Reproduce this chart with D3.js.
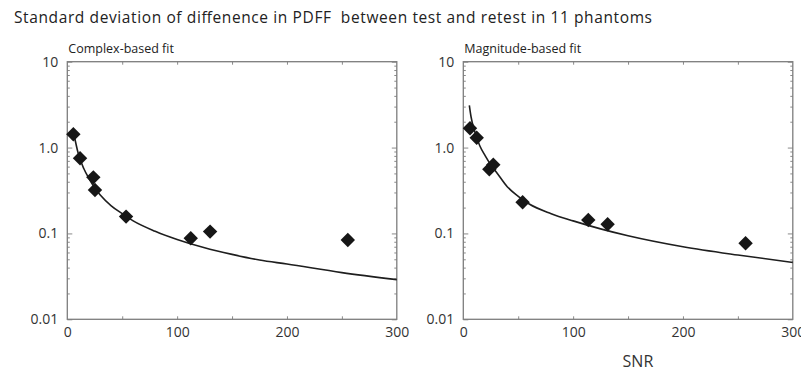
<!DOCTYPE html>
<html>
<head>
<meta charset="utf-8">
<script src="https://cdn.jsdelivr.net/npm/d3@7"></script>
<style>
  html, body { margin: 0; padding: 0; background: #fff; }
  svg { display: block; }
  text { font-family: "Open Sans", "DejaVu Sans", sans-serif; }
</style>
</head>
<body>
<svg id="chart" width="801" height="372"></svg>
<script>
// ---------- data ----------
const titleText = "Standard deviation of diffenence in PDFF  between test and retest in 11 phantoms";
const panelTitles = ["Complex-based fit", "Magnitude-based fit"];
const xLabel = "SNR";

const xTickValues = [0, 100, 200, 300];
const xTickLabels = ["0", "100", "200", "300"];
const xMinorTicks = [50, 100, 150, 200, 250];
const yTickValues = [10, 1, 0.1, 0.01];
const yTickLabels = ["10", "1.0", "0.1", "0.01"];

// Complex-based fit: measured points
const complexSNR = [5.5, 11.6, 23.7, 25.2, 53.5, 112.4, 130, 255.4];
const complexSD  = [1.43, 0.75, 0.45, 0.32, 0.157, 0.088, 0.105, 0.084];
// Complex-based fit: fitted curve, sampled along the drawn line
const complexCurveSNR = [5.5, 10, 15, 20, 25, 30, 40, 50, 60, 80, 100, 125, 150, 175, 200, 250, 300];
const complexCurveSD  = [1.55, 0.85, 0.57, 0.43, 0.34, 0.28, 0.21, 0.17, 0.14, 0.106, 0.085, 0.068, 0.057, 0.049, 0.044, 0.035, 0.029];

// Magnitude-based fit: measured points
const magnitudeSNR = [6.1, 12.2, 23.7, 27.3, 54, 113.8, 131.4, 257];
const magnitudeSD  = [1.68, 1.30, 0.56, 0.63, 0.231, 0.1435, 0.128, 0.0767];
// Magnitude-based fit: fitted curve, sampled along the drawn line
const magnitudeCurveSNR = [5.5, 7, 10, 15, 20, 25, 30, 40, 50, 60, 80, 100, 125, 150, 200, 250, 300];
const magnitudeCurveSD  = [3.1, 2.3, 1.6, 1.05, 0.8, 0.63, 0.52, 0.35, 0.27, 0.22, 0.17, 0.14, 0.113, 0.094, 0.07, 0.056, 0.046];

// ---------- drawing ----------
const svg = d3.select("#chart");

svg.append("text")
  .attr("x", 14).attr("y", 23)
  .attr("font-size", 15.5)
  .attr("fill", "#222")
  .attr("textLength", 638)
  .attr("lengthAdjust", "spacing")
  .style("white-space", "pre")
  .attr("xml:space", "preserve")
  .text(titleText);

const panels = [
  { left: 67.3, title: panelTitles[0], px: complexSNR, py: complexSD, cx: complexCurveSNR, cy: complexCurveSD, showX: false },
  { left: 463.3, title: panelTitles[1], px: magnitudeSNR, py: magnitudeSD, cx: magnitudeCurveSNR, cy: magnitudeCurveSD, showX: true }
];

const plotTop = 61.7, plotBottom = 319.3, plotW = 329.5;
const plotH = plotBottom - plotTop;

const x = d3.scaleLinear().domain([0, 300]).range([0, plotW]);
const y = d3.scaleLog().domain([0.01, 10]).range([plotH, 0]);

// minor log ticks
const minorY = [];
[0.01, 0.1, 1].forEach(d => { for (let k = 2; k <= 9; k++) minorY.push(+(d * k).toPrecision(3)); });

const frameColor = "#7d7d7d";

panels.forEach(p => {
  const g = svg.append("g").attr("transform", `translate(${p.left},${plotTop})`);

  // panel title
  svg.append("text")
    .attr("x", p.left + 1).attr("y", 53)
    .attr("font-size", 12.5)
    .attr("fill", "#222")
    .text(p.title);

  // tick marks (inward)
  const tickStyle = sel => {
    sel.select(".domain").remove();
    sel.selectAll(".tick line").attr("stroke", frameColor).attr("stroke-width", 0.9);
    sel.selectAll(".tick text").remove();
  };
  g.append("g").call(d3.axisRight(y).tickValues(yTickValues).tickSize(5).tickFormat("")).call(tickStyle);
  g.append("g").call(d3.axisRight(y).tickValues(minorY).tickSize(2.5).tickFormat("")).call(tickStyle);
  g.append("g").attr("transform", `translate(${plotW},0)`)
    .call(d3.axisLeft(y).tickValues(yTickValues).tickSize(5).tickFormat("")).call(tickStyle);
  g.append("g").attr("transform", `translate(${plotW},0)`)
    .call(d3.axisLeft(y).tickValues(minorY).tickSize(2.5).tickFormat("")).call(tickStyle);
  g.append("g").attr("transform", `translate(0,${plotH})`)
    .call(d3.axisTop(x).tickValues(xMinorTicks).tickSize(3).tickFormat("")).call(tickStyle);
  g.append("g")
    .call(d3.axisBottom(x).tickValues(xMinorTicks).tickSize(3).tickFormat("")).call(tickStyle);

  // tick labels
  const yLab = g.append("g")
    .call(d3.axisLeft(y).tickValues(yTickValues).tickSize(0).tickPadding(9)
      .tickFormat((d, i) => yTickLabels[i]));
  yLab.select(".domain").remove();
  yLab.selectAll("text").attr("font-size", 14).attr("fill", "#333")
    .attr("font-family", "'Open Sans', sans-serif");

  const xLab = g.append("g").attr("transform", `translate(0,${plotH})`)
    .call(d3.axisBottom(x).tickValues(xTickValues).tickSize(0).tickPadding(8)
      .tickFormat((d, i) => xTickLabels[i]));
  xLab.select(".domain").remove();
  xLab.selectAll("text").attr("font-size", 14).attr("fill", "#333")
    .attr("font-family", "'Open Sans', sans-serif");

  // frame
  g.append("rect")
    .attr("x", 0).attr("y", 0).attr("width", plotW).attr("height", plotH)
    .attr("fill", "none").attr("stroke", frameColor).attr("stroke-width", 1.3);

  // fitted curve
  const curvePts = p.cx.map((v, i) => [v, p.cy[i]]);
  g.append("path")
    .datum(curvePts)
    .attr("fill", "none")
    .attr("stroke", "#1e1e1e")
    .attr("stroke-width", 1.6)
    .attr("d", d3.line().x(d => x(d[0])).y(d => y(d[1])).curve(d3.curveMonotoneX));

  // data points (diamonds)
  const sym = d3.symbol().type(d3.symbolSquare).size(104);
  g.selectAll("path.pt")
    .data(p.px.map((v, i) => [v, p.py[i]]))
    .join("path")
    .attr("class", "pt")
    .attr("d", sym)
    .attr("transform", d => `translate(${x(d[0])},${y(d[1])}) rotate(45)`)
    .attr("fill", "#161616");

  if (p.showX) {
    svg.append("text")
      .attr("x", p.left + x(159)).attr("y", 367)
      .attr("text-anchor", "middle")
      .attr("font-size", 16)
      .attr("fill", "#333")
      .text(xLabel);
  }
});
</script>
</body>
</html>
